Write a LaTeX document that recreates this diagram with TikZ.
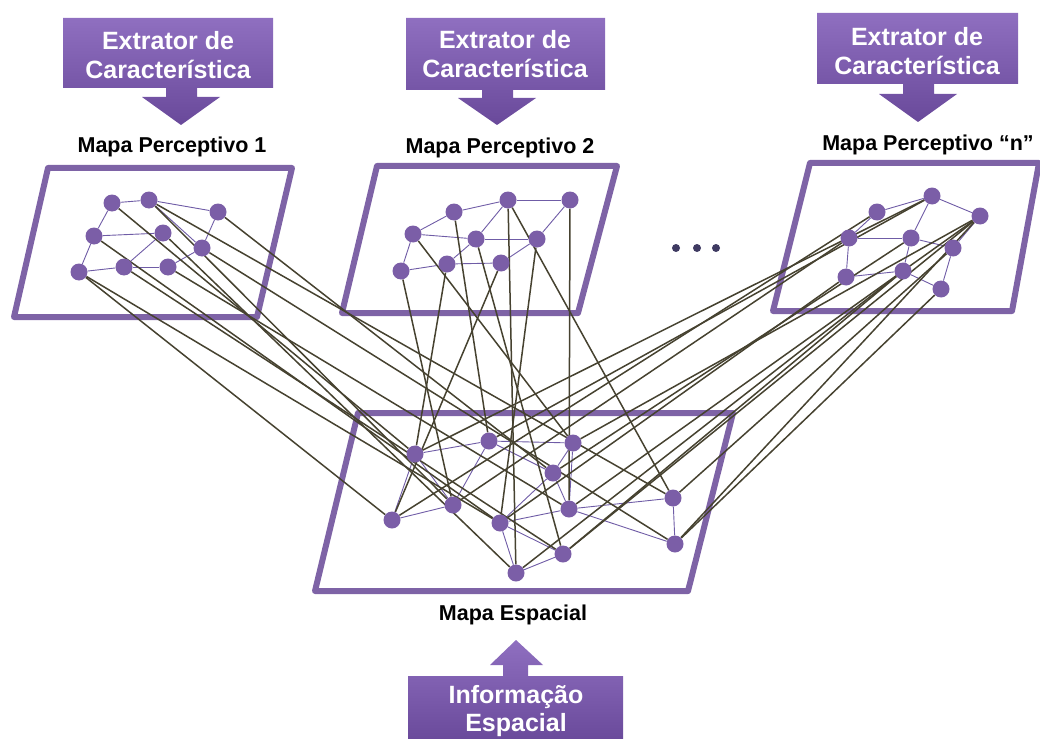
\documentclass[tikz,border=0pt]{standalone}
\usepackage{fontspec}
\setmainfont{Liberation Sans}
\usetikzlibrary{backgrounds}
\definecolor{framecol}{HTML}{7E63A6}
\definecolor{dotcol}{HTML}{7B5EA7}
\definecolor{thincol}{HTML}{6F5CA6}
\definecolor{linkcol}{HTML}{464230}
\definecolor{boxtop}{HTML}{8F6FC0}
\definecolor{boxbot}{HTML}{69499A}
\definecolor{dotsep}{HTML}{3F3A62}
\definecolor{textshade}{HTML}{4A3470}
\pgfdeclarelayer{frames}
\pgfdeclarelayer{links}
\pgfsetlayers{frames,links,main}
\tikzset{
  dot/.style={circle,fill=dotcol,inner sep=0pt,minimum size=17pt},
  mapframe/.style={draw=framecol,line width=6pt,line join=round},
  thin/.style={draw=thincol,line width=0.9pt},
  link/.style={draw=linkcol,line width=1.5pt},
  maplabel/.style={font=\fontsize{21.5}{24}\selectfont\bfseries,text=black,inner sep=0pt},
  boxtext/.style={font=\fontsize{25}{28.5}\selectfont\bfseries,text=white,align=center,inner sep=0pt},
  sepdot/.style={circle,fill=dotsep,inner sep=0pt,minimum size=8pt}
}
\begin{document}
\begin{tikzpicture}[x=1pt,y=-1pt]
\useasboundingbox (0,0) rectangle (1040,738);

% feature-extractor boxes with downward arrows
\shade[top color=boxtop,bottom color=boxbot]
  (63,18) -- (273,18) -- (273,88) -- (197,88) -- (197,97) -- (220,97) -- (181,125)
  -- (142,97) -- (166,97) -- (166,88) -- (63,88) -- cycle;
\node[boxtext] (e1) at (168,55) {Extrator de\\Característica};
\shade[top color=boxtop,bottom color=boxbot]
  (406,18) -- (605,18) -- (605,90) -- (513,90) -- (513,98) -- (536,98) -- (497,125)
  -- (458,98) -- (482,98) -- (482,90) -- (406,90) -- cycle;
\node[boxtext] (e2) at (505,54) {Extrator de\\Característica};
\shade[top color=boxtop,bottom color=boxbot]
  (817,13) -- (1018,13) -- (1018,84) -- (934,84) -- (934,94) -- (957,94) -- (918,122)
  -- (879,94) -- (903,94) -- (903,84) -- (817,84) -- cycle;
\node[boxtext] (e3) at (917,51) {Extrator de\\Característica};

% spatial-information box with upward arrow
\shade[top color=boxtop,bottom color=boxbot]
  (408,676) -- (503,676) -- (503,665) -- (490,665) -- (516,640) -- (543,665)
  -- (528,665) -- (528,676) -- (623,676) -- (623,742) -- (408,742) -- cycle;
\node[boxtext] (inf) at (516,711) {Informação\\Espacial};

% map titles
\node[maplabel] (l1) at (172,147) {Mapa Perceptivo 1};
\node[maplabel] (l2) at (500,148) {Mapa Perceptivo 2};
\node[maplabel] (ln) at (928,145) {Mapa Perceptivo “n”};
\node[maplabel] (ls) at (513,615) {Mapa Espacial};

% map frames
\begin{pgfonlayer}{frames}
\draw[mapframe] (48,168) -- (292,168) -- (257,317) -- (14,317) -- cycle;
\draw[mapframe] (377,166) -- (617,166) -- (578,313) -- (342,313) -- cycle;
\draw[mapframe] (810,163) -- (1039,163) -- (1012,311) -- (773,311) -- cycle;
\draw[mapframe] (358,413) -- (733,413) -- (688,591) -- (315,591) -- cycle;
\end{pgfonlayer}

% ellipsis between maps
\node[sepdot] (d1) at (676,248) {};
\node[sepdot] (d2) at (697,248) {};
\node[sepdot] (d3) at (716,248) {};

% perceptual map 1
\node[dot] (a1) at (112,203) {};
\node[dot] (a2) at (149,200) {};
\node[dot] (a3) at (218,212) {};
\node[dot] (a4) at (94,236) {};
\node[dot] (a5) at (163,233) {};
\node[dot] (a6) at (202,248) {};
\node[dot] (a7) at (79,272) {};
\node[dot] (a8) at (124,267) {};
\node[dot] (a9) at (168,267) {};

% perceptual map 2
\node[dot] (b1) at (454,212) {};
\node[dot] (b2) at (508,200) {};
\node[dot] (b3) at (570,200) {};
\node[dot] (b4) at (413,234) {};
\node[dot] (b5) at (476,239) {};
\node[dot] (b6) at (537,239) {};
\node[dot] (b7) at (401,271) {};
\node[dot] (b8) at (447,264) {};
\node[dot] (b9) at (501,263) {};

% perceptual map n
\node[dot] (c1) at (877,212) {};
\node[dot] (c2) at (932,196) {};
\node[dot] (c3) at (980,216) {};
\node[dot] (c4) at (849,238) {};
\node[dot] (c5) at (911,238) {};
\node[dot] (c6) at (953,248) {};
\node[dot] (c7) at (846,277) {};
\node[dot] (c8) at (903,271) {};
\node[dot] (c9) at (941,289) {};

% spatial map
\node[dot] (s1) at (415,454) {};
\node[dot] (s2) at (489,441) {};
\node[dot] (s3) at (573,443) {};
\node[dot] (s4) at (553,473) {};
\node[dot] (s5) at (453,505) {};
\node[dot] (s6) at (392,520) {};
\node[dot] (s7) at (500,523) {};
\node[dot] (s8) at (569,509) {};
\node[dot] (s9) at (673,498) {};
\node[dot] (s10) at (675,544) {};
\node[dot] (s11) at (563,554) {};
\node[dot] (s12) at (516,573) {};

\begin{pgfonlayer}{links}
% neighbourhood edges inside each map
\foreach \u/\v in {a1/a2,a2/a3,a2/a6,a3/a6,a1/a4,a4/a5,a4/a7,a7/a8,a8/a9,a8/a5,a9/a6,
                   b4/b1,b1/b2,b2/b3,b2/b5,b3/b6,b4/b5,b5/b6,b4/b7,b7/b8,b8/b5,b8/b9,b9/b6,
                   c1/c2,c2/c3,c1/c4,c2/c5,c4/c5,c5/c6,c3/c6,c4/c7,c7/c8,c8/c5,c8/c9,c9/c6,
                   s1/s2,s1/s6,s1/s5,s6/s5,s2/s5,s2/s3,s2/s4,s3/s4,s3/s8,s4/s8,s4/s7,
                   s7/s8,s7/s11,s7/s12,s12/s11,s8/s9,s8/s10,s9/s10}
  \draw[thin] (\u) -- (\v);
% projections from the perceptual maps onto the spatial map
\foreach \u/\v in {a1/s1,a2/s5,a2/s9,a3/s4,a4/s7,a5/s12,a6/s10,a7/s6,a7/s7,a8/s11,a9/s8,
                   b1/s2,b2/s9,b2/s12,b3/s8,b4/s3,b5/s11,b6/s7,b7/s5,b8/s1,b9/s6,
                   c1/s6,c2/s1,c2/s2,c4/s5,c5/s4,c7/s7,c8/s11,c8/s12,c6/s9,c9/s10,
                   c3/s3,c3/s8,c3/s11,c3/s10}
  \draw[link] (\u) -- (\v);
\end{pgfonlayer}
\end{tikzpicture}
\end{document}
